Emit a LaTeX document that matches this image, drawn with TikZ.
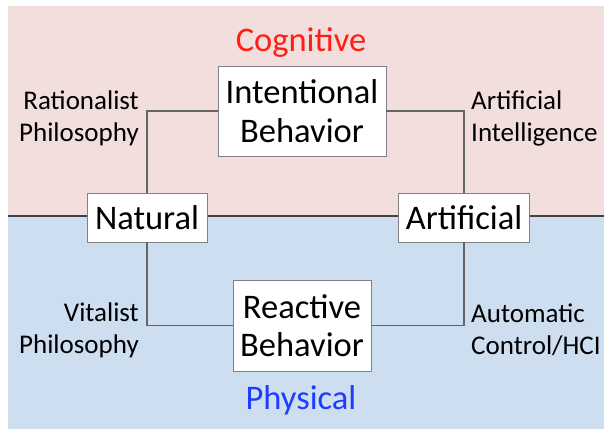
\documentclass[tikz,border=0pt]{standalone}
\usepackage{fontspec}
\setmainfont{Carlito}
\definecolor{bgpink}{RGB}{242,222,220}
\definecolor{bgblue}{RGB}{205,222,240}
\definecolor{txtred}{RGB}{255,30,20}
\definecolor{txtblue}{RGB}{30,60,255}
\definecolor{divline}{RGB}{64,64,64}
\definecolor{conn}{RGB}{100,100,100}
\definecolor{boxline}{RGB}{128,128,128}
\begin{document}
\begin{tikzpicture}[x=1pt,y=-1pt,
  boxnode/.style={draw=boxline,line width=0.9pt,fill=white,inner sep=0pt,align=center,
    font=\fontsize{34.5}{38.5}\selectfont},
  sidelabel/.style={inner sep=0pt,font=\fontsize{27}{32}\selectfont},
  headlabel/.style={inner sep=0pt,font=\fontsize{34.5}{38}\selectfont},
  connector/.style={draw=conn,line width=1.2pt}]
\useasboundingbox (0,0) rectangle (604,431);
\fill[bgpink] (8,6) rectangle (604,215);
\fill[bgblue] (8,215) rectangle (604,429);
\coordinate (divL) at (8,215.5);
\coordinate (divR) at (604,215.5);
\draw[divline,line width=2pt] (divL) -- (divR);

\node[boxnode,minimum width=168pt,minimum height=90pt] (intent) at (302,111) {Intentional\\Behavior};
\node[boxnode,minimum width=138pt,minimum height=91pt] (react) at (302,325.5) {Reactive\\Behavior};
\node[boxnode,minimum width=120pt,minimum height=49pt] (nat) at (147,217.5) {Natural};
\node[boxnode,minimum width=131pt,minimum height=49pt] (art) at (464,217.5) {Artificial};

\draw[connector] (nat.north) |- (intent.west);
\draw[connector] (art.north) |- (intent.east);
\draw[connector] (nat.south) |- (react.west);
\draw[connector] (art.south) |- (react.east);

\node[headlabel,text=txtred] (cog) at (301,43) {Cognitive};
\node[headlabel,text=txtblue] (phys) at (301,400) {Physical};

\node[sidelabel,align=right,anchor=east] (rat) at (139,118) {Rationalist\\Philosophy};
\node[sidelabel,align=left,anchor=west] (ai) at (471,118) {Artificial\\Intelligence};
\node[sidelabel,align=right,anchor=east] (vit) at (139,330) {Vitalist\\Philosophy};
\node[sidelabel,align=left,anchor=west] (auto) at (471,330) {Automatic\\Control/HCI};
\end{tikzpicture}
\end{document}
